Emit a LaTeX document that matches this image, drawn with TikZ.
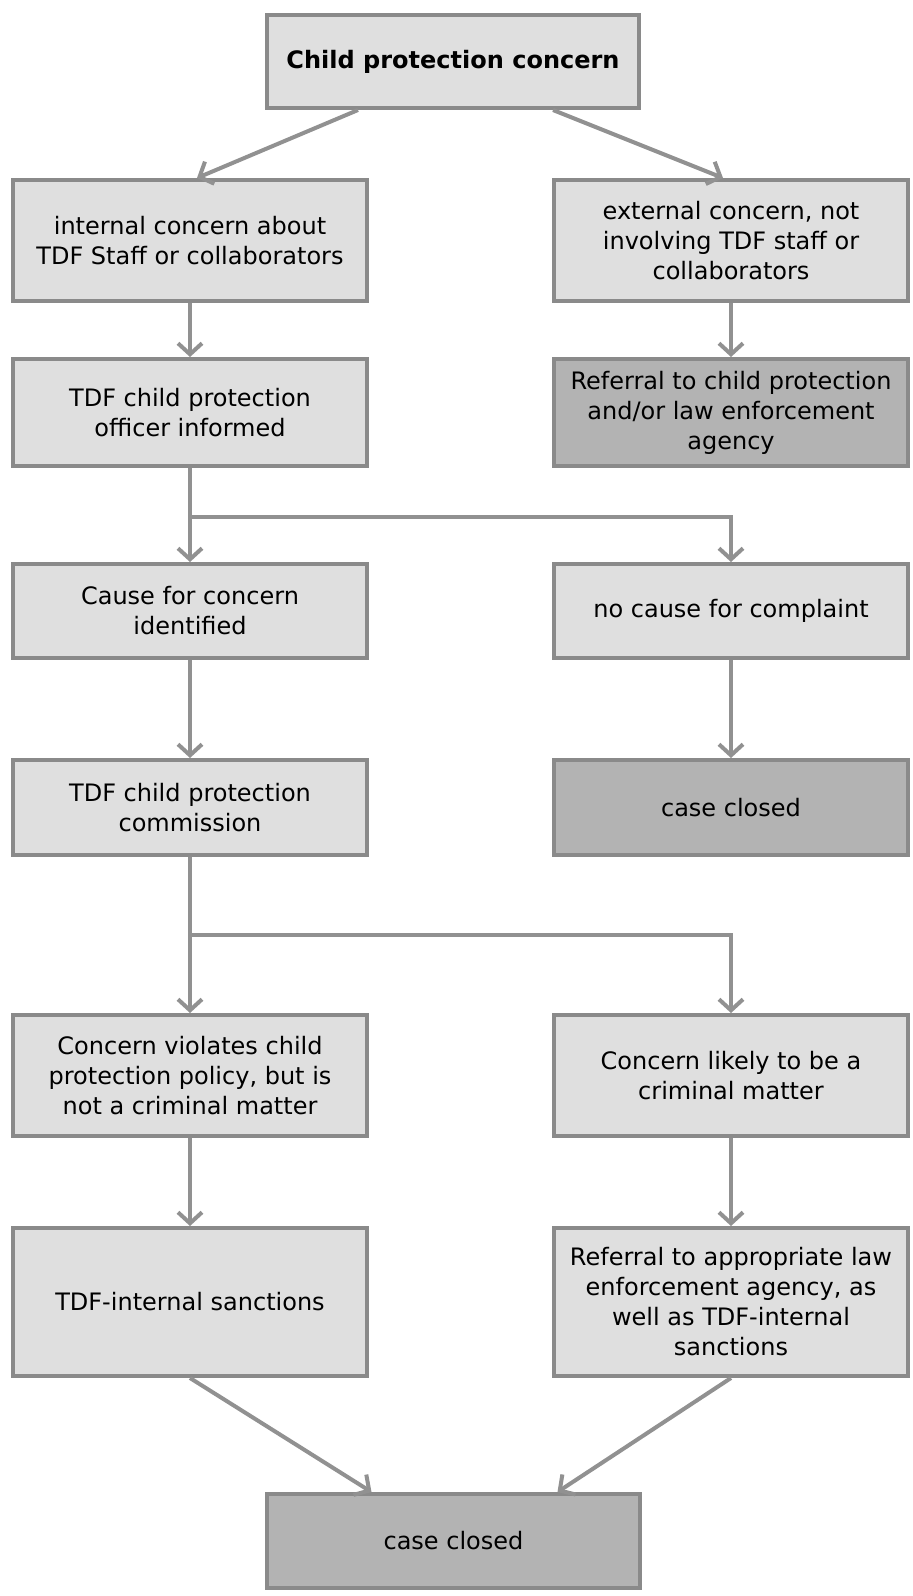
\documentclass[tikz,border=0pt]{standalone}
\usepackage{xcolor}
\usepackage{fontspec}
\setmainfont{DejaVu Sans}
\usepackage{tikz}
\definecolor{boxgray}{RGB}{223, 223, 223}
\definecolor{darkgray}{RGB}{179, 179, 179}
\definecolor{edgegray}{RGB}{138, 138, 138}
\definecolor{linegray}{RGB}{145, 145, 145}
\usetikzlibrary{arrows.meta, positioning, calc}

\begin{document}
\begin{tikzpicture}[
    x=1pt, y=-1pt,
    box/.style={rectangle, draw=edgegray, line width=4pt, fill=boxgray, minimum width=354pt, inner sep=0pt, align=center, font=\fontsize{24}{30}\selectfont},
    darkbox/.style={box, fill=darkgray},
    arr/.style={draw=linegray, line width=4pt, -{Straight Barb[length=11pt, width=24pt]}}
]
    \useasboundingbox (0, 0) rectangle (913, 1596);

    \node[box, minimum width=372pt, minimum height=93pt, font=\fontsize{24}{30}\selectfont\bfseries] (root) at (453, 61.5) {Child protection concern};

    \node[box, minimum height=121pt] (internal) at (190, 240.5) {internal concern about\\TDF Staff or collaborators};
    \node[box, minimum height=121pt] (external) at (731, 240.5) {external concern, not\\involving TDF staff or\\collaborators};

    \node[box, minimum height=107pt] (officer) at (190, 412.5) {TDF child protection\\officer informed};
    \node[darkbox, minimum height=107pt] (referral) at (731, 412.5) {Referral to child protection\\and/or law enforcement\\agency};

    \node[box, minimum height=94pt] (cause) at (190, 611) {Cause for concern\\identified};
    \node[box, minimum height=94pt] (nocause) at (731, 611) {no cause for complaint};

    \node[box, minimum height=95pt] (commission) at (190, 807.5) {TDF child protection\\commission};
    \node[darkbox, minimum height=95pt] (closedA) at (731, 807.5) {case closed};

    \node[box, minimum height=121pt] (violates) at (190, 1075.5) {Concern violates child\\protection policy, but is\\not a criminal matter};
    \node[box, minimum height=121pt] (criminal) at (731, 1075.5) {Concern likely to be a\\criminal matter};

    \node[box, minimum height=148pt] (sanctions) at (190, 1302) {TDF-internal sanctions};
    \node[box, minimum height=148pt] (lawref) at (731, 1302) {Referral to appropriate law\\enforcement agency, as\\well as TDF-internal\\sanctions};

    \node[darkbox, minimum width=373pt, minimum height=94pt] (closedB) at (453.5, 1541) {case closed};

    \coordinate (split1) at (190, 517);
    \coordinate (split2) at (190, 935);

    % top split
    \draw[arr] ([xshift=-95pt]root.south) -- ([xshift=7pt]internal.north);
    \draw[arr] ([xshift=100pt]root.south) -- ([xshift=-8pt]external.north);

    \draw[arr] (internal) -- (officer);
    \draw[arr] (external) -- (referral);

    \draw[arr] (officer) -- (cause);
    \draw[arr] (split1) -| (nocause.north);

    \draw[arr] (cause) -- (commission);
    \draw[arr] (nocause) -- (closedA);

    \draw[arr] (commission) -- (violates);
    \draw[arr] (split2) -| (criminal.north);

    \draw[arr] (violates) -- (sanctions);
    \draw[arr] (criminal) -- (lawref);

    % bottom join
    \draw[arr] (sanctions.south) -- ([xshift=-82pt]closedB.north);
    \draw[arr] (lawref.south) -- ([xshift=104pt]closedB.north);

\end{tikzpicture}
\end{document}
